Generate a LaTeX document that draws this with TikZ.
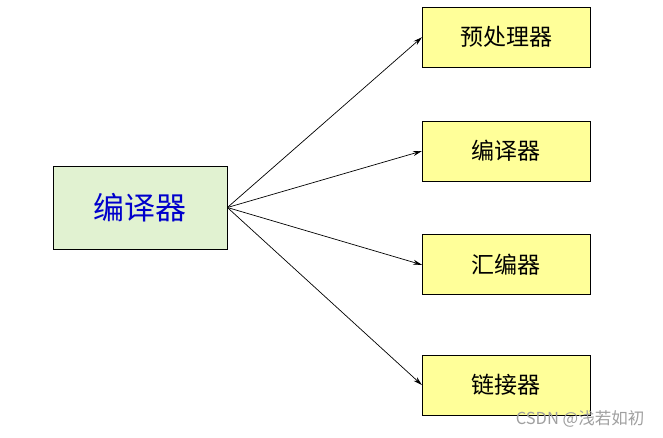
\documentclass[tikz,border=0pt]{standalone}
\usepackage{fontspec}
\setmainfont{Noto Sans CJK SC}
\usetikzlibrary{arrows.meta}
\usetikzlibrary{positioning}

\definecolor{srcgreen}{HTML}{E1F2D1}
\definecolor{srcblue}{HTML}{0000CC}
\definecolor{stageyellow}{HTML}{FFFF99}

\begin{document}
\begin{tikzpicture}[x=1pt,y=-1pt,node distance=53pt and 195pt,
	stage/.style={draw,rectangle,fill=stageyellow,line width=0.8pt,minimum width=168pt,minimum height=60pt,inner sep=0pt,font=\fontsize{23}{23}\selectfont},
	link/.style={-{Stealth[length=9pt,width=5pt]},line width=0.7pt}]
		\useasboundingbox (0,0) rectangle (663,437);
		\node [draw,rectangle,fill=srcgreen,line width=0.8pt,minimum width=174pt,minimum height=83pt,inner sep=0pt,text=srcblue,font=\fontsize{31}{31}\selectfont] (compiler) at (140,207.5) {编译器};
		\node [stage,anchor=north west] (preproc) at (422,6.8) {预处理器};
		\node [stage,below=of preproc] (comp) {编译器};
		\node [stage,below=of comp] (asm) {汇编器};
		\node [stage,below=59.5pt of asm] (linker) {链接器};

		\draw [link] (compiler.east) -- (preproc.west);
		\draw [link] (compiler.east) -- (comp.west);
		\draw [link] (compiler.east) -- (asm.west);
		\draw [link] (compiler.east) -- (linker.west);

		\node [text=gray!75,font=\fontsize{16.5}{16.5}\selectfont] (mark) at (580,419) {CSDN @浅若如初};
	\end{tikzpicture}
\end{document}
